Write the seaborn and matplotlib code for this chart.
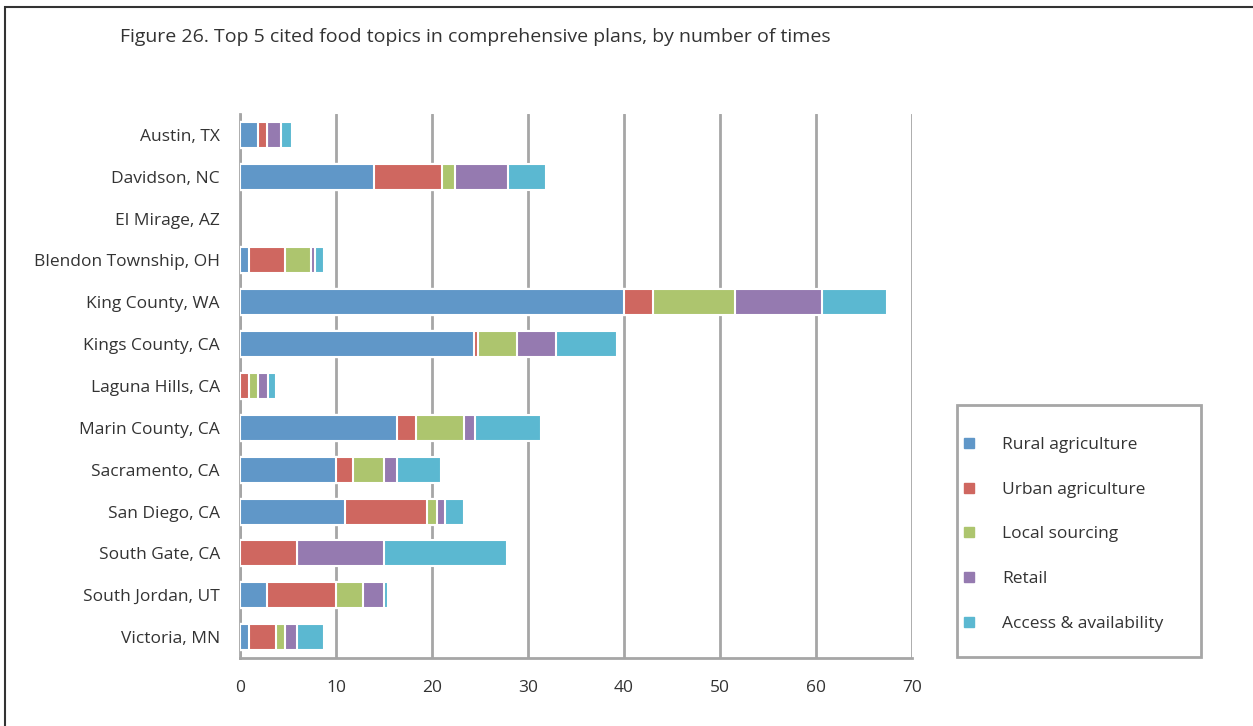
import numpy as np
import pandas as pd
import matplotlib
matplotlib.use("Agg")
import matplotlib.pyplot as plt
import seaborn as sns
from matplotlib.lines import Line2D
from matplotlib.patches import Rectangle

# Data
places = ["Austin, TX", "Davidson, NC", "El Mirage, AZ", "Blendon Township, OH",
          "King County, WA", "Kings County, CA", "Laguna Hills, CA", "Marin County, CA",
          "Sacramento, CA", "San Diego, CA", "South Gate, CA", "South Jordan, UT",
          "Victoria, MN"]
topics = ["Rural agriculture", "Urban agriculture", "Local sourcing", "Retail",
          "Access & availability"]
rural = [1.9, 14.0, 0, 0.9, 40.0, 24.4, 0, 16.4, 10.0, 10.9, 0, 2.8, 0.9]
urban = [0.9, 7.0, 0, 3.8, 3.0, 0.4, 0.9, 1.9, 1.8, 8.6, 5.9, 7.2, 2.9]
local = [0, 1.4, 0, 2.7, 8.6, 4.1, 1.0, 5.0, 3.2, 1.0, 0, 2.8, 0.9]
retail = [1.5, 5.5, 0, 0.4, 9.0, 4.0, 1.0, 1.2, 1.4, 0.9, 9.1, 2.2, 1.2]
access = [1.1, 4.0, 0, 1.0, 6.8, 6.4, 0.9, 6.9, 4.5, 1.9, 12.8, 0.4, 2.9]
colors = ["#6097C8", "#CF6760", "#ADC56E", "#957AB0", "#5BB8D1"]

df = pd.DataFrame({"place": places, topics[0]: rural, topics[1]: urban,
                   topics[2]: local, topics[3]: retail, topics[4]: access})
cum = df[topics].cumsum(axis=1)

sns.set_style("white")
plt.rcParams["font.family"] = ["Open Sans", "DejaVu Sans"]

fig = plt.figure(figsize=(12.53, 7.26), dpi=100)
ax = fig.add_axes([240 / 1253, 1 - 658 / 726, 672 / 1253, 544 / 726])

# stacked bars: draw cumulative totals, widest first
for t, c in zip(reversed(topics), reversed(colors)):
    sns.barplot(x=cum[t], y=df["place"], orient="h", color=c, width=0.62,
                edgecolor="white", linewidth=1.5, saturation=1, ax=ax, zorder=3)
# no edge line for empty bars
for p in ax.patches:
    if p.get_width() == 0:
        p.set_linewidth(0)

ax.set_xlim(0, 70)
ax.set_xticks(range(0, 71, 10))
ax.xaxis.grid(True, color="#a6a6a6", linewidth=2, zorder=0)
ax.set_axisbelow(True)
ax.set_xlabel("")
ax.set_ylabel("")
for s in ["top", "right"]:
    ax.spines[s].set_visible(False)
for s in ["left", "bottom"]:
    ax.spines[s].set_color("#a6a6a6")
    ax.spines[s].set_linewidth(2)
ax.tick_params(axis="both", length=0, labelsize=12.5, colors="#333333")
ax.tick_params(axis="x", pad=16)
ax.tick_params(axis="y", pad=14.5)

fig.text(120 / 1253, 1 - 37 / 726, "Figure 26. Top 5 cited food topics in comprehensive plans, by number of times",
         fontsize=14, color="#333333", va="center")

# legend
handles = [Line2D([], [], marker="s", linestyle="", color=c, markersize=7) for c in colors]
fig.patches.append(Rectangle((957 / 1253, 1 - 657 / 726), 244 / 1253, 252 / 726,
                             transform=fig.transFigure, fill=False,
                             edgecolor="#a6a6a6", linewidth=2))
fig.legend(handles, topics, loc="upper left", bbox_to_anchor=(945 / 1253, 1 - 421 / 726),
           frameon=False, fontsize=12.5, labelspacing=1.65, handletextpad=1.4,
           handlelength=1.0, labelcolor="#333333")

# outer frame
fig.patches.append(Rectangle((5 / 1253, -0.01), 1.1, 1.0, transform=fig.transFigure,
                             fill=False, edgecolor="#333333", linewidth=1.5))

fig.savefig("out.png", dpi=100)
